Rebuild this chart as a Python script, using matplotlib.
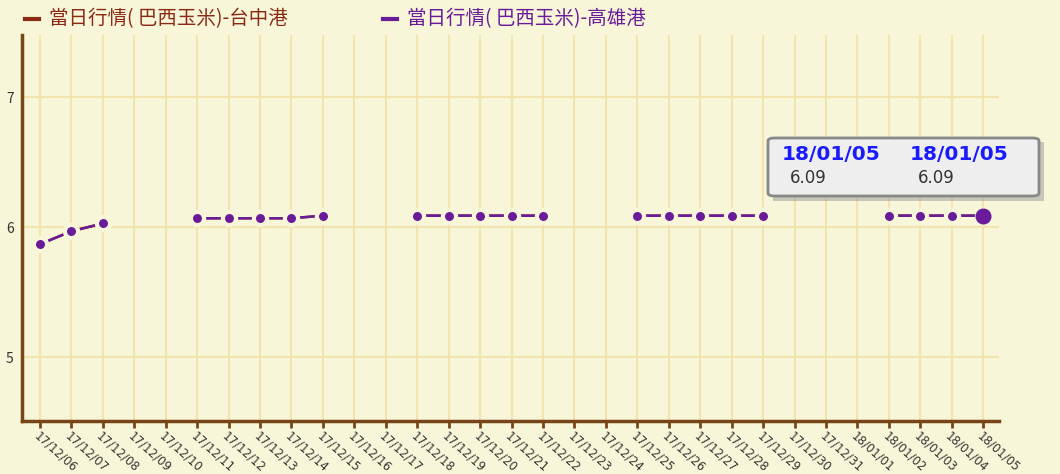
import matplotlib
matplotlib.use('Agg')
import matplotlib.pyplot as plt
from matplotlib.lines import Line2D
from matplotlib.patches import FancyBboxPatch, Rectangle
import numpy as np

plt.rcParams['font.family'] = ['Noto Sans CJK TC', 'DejaVu Sans']

dates = ['17/12/06', '17/12/07', '17/12/08', '17/12/09', '17/12/10', '17/12/11',
         '17/12/12', '17/12/13', '17/12/14', '17/12/15', '17/12/16', '17/12/17',
         '17/12/18', '17/12/19', '17/12/20', '17/12/21', '17/12/22', '17/12/23',
         '17/12/24', '17/12/25', '17/12/26', '17/12/27', '17/12/28', '17/12/29',
         '17/12/30', '17/12/31', '18/01/01', '18/01/02', '18/01/03', '18/01/04',
         '18/01/05']
nan = np.nan
taichung = [5.87, 5.97, 6.03, nan, nan, 6.07, 6.07, 6.07, 6.07, 6.09, nan, nan,
            6.09, 6.09, 6.09, 6.09, 6.09, nan, nan, 6.09, 6.09, 6.09, 6.09, 6.09,
            nan, nan, nan, 6.09, 6.09, 6.09, 6.09]
kaohsiung = [5.87, 5.97, 6.03, nan, nan, 6.07, 6.07, 6.07, 6.07, 6.09, nan, nan,
             6.09, 6.09, 6.09, 6.09, 6.09, nan, nan, 6.09, 6.09, 6.09, 6.09, 6.09,
             nan, nan, nan, 6.09, 6.09, 6.09, 6.09]
series_names = ['當日行情( 巴西玉米)-台中港', '當日行情( 巴西玉米)-高雄港']
series_colors = ['#8B2A14', '#6A1B9A']

bg = '#F7F6D8'
grid_c = '#F3E3AE'
axis_c = '#7A4419'
W, H = 1060, 474

fig = plt.figure(figsize=(10.6, 4.74), dpi=100, facecolor=bg)
ax = fig.add_axes([22 / W, 1 - 421 / H, (999 - 22) / W, (421 - 35) / H])
ax.set_facecolor(bg)

x = np.arange(len(dates))
for vals, col in [(taichung, series_colors[0]), (kaohsiung, series_colors[1])]:
    ax.plot(x, vals, color=col, lw=1.8, marker='o', markersize=9.5,
            markerfacecolor=col, markeredgecolor=bg, markeredgewidth=3,
            zorder=3)
# hovered last point
ax.plot(x[-1], kaohsiung[-1], 'o', color=series_colors[1], markersize=10.5, zorder=4)

ax.set_xlim(-0.57, 30.5)
ax.set_ylim(4.51, 7.48)
ax.set_yticks([5, 6, 7])
ax.set_xticks(x)
ax.set_xticklabels(dates, rotation=-42, ha='left', va='top', rotation_mode='anchor',
                   fontsize=8.5, color='#333333', family='DejaVu Sans')
ax.tick_params(axis='x', length=5, width=2, color=axis_c, pad=1)
ax.tick_params(axis='y', length=0, labelsize=10, labelcolor='#333333', pad=6)
ax.grid(True, color=grid_c, lw=1.5, zorder=0)
for s in ['top', 'right']:
    ax.spines[s].set_visible(False)
for s in ['left', 'bottom']:
    ax.spines[s].set_color(axis_c)
    ax.spines[s].set_linewidth(2.5)

# legend drawn by hand so the entries sit where the reference has them
leg_y = 1 - 19 / H
for name, col, x0 in zip(series_names, series_colors, [25, 383]):
    fig.add_artist(Line2D([x0 / W, (x0 + 14) / W], [leg_y, leg_y], color=col, lw=3,
                          transform=fig.transFigure))
    fig.text((x0 + 24) / W, leg_y, name, color=col, fontsize=14, ha='left', va='center')

# cut-off title at the very top
fig.text(0.5, 1.018, '進口玉米港口行情走勢比較', color='#2233DD', fontsize=15,
         ha='center', va='center')

# tooltip
shadow = Rectangle((773 / W, 1 - 201 / H), 271 / W, 59 / H,
                   transform=fig.transFigure, facecolor='#999999', alpha=0.5, zorder=5)
box = FancyBboxPatch((768 / W, 1 - 196 / H), 271 / W, 58 / H,
                     boxstyle='round,pad=0,rounding_size=0.006',
                     transform=fig.transFigure, facecolor='#EEEEEE',
                     edgecolor='#888888', lw=2, zorder=6)
fig.patches.extend([shadow, box])
for x0 in [782, 910]:
    fig.text(x0 / W, 1 - 155 / H, dates[-1], color='#1a1aff', fontsize=14.5,
             fontweight='bold', family='DejaVu Sans', ha='left', va='center', zorder=7)
    fig.text((x0 + 8) / W, 1 - 178 / H, '%.2f' % kaohsiung[-1], color='#333333',
             fontsize=12, family='DejaVu Sans', ha='left', va='center', zorder=7)

fig.savefig('out.png', dpi=100, facecolor=bg)
